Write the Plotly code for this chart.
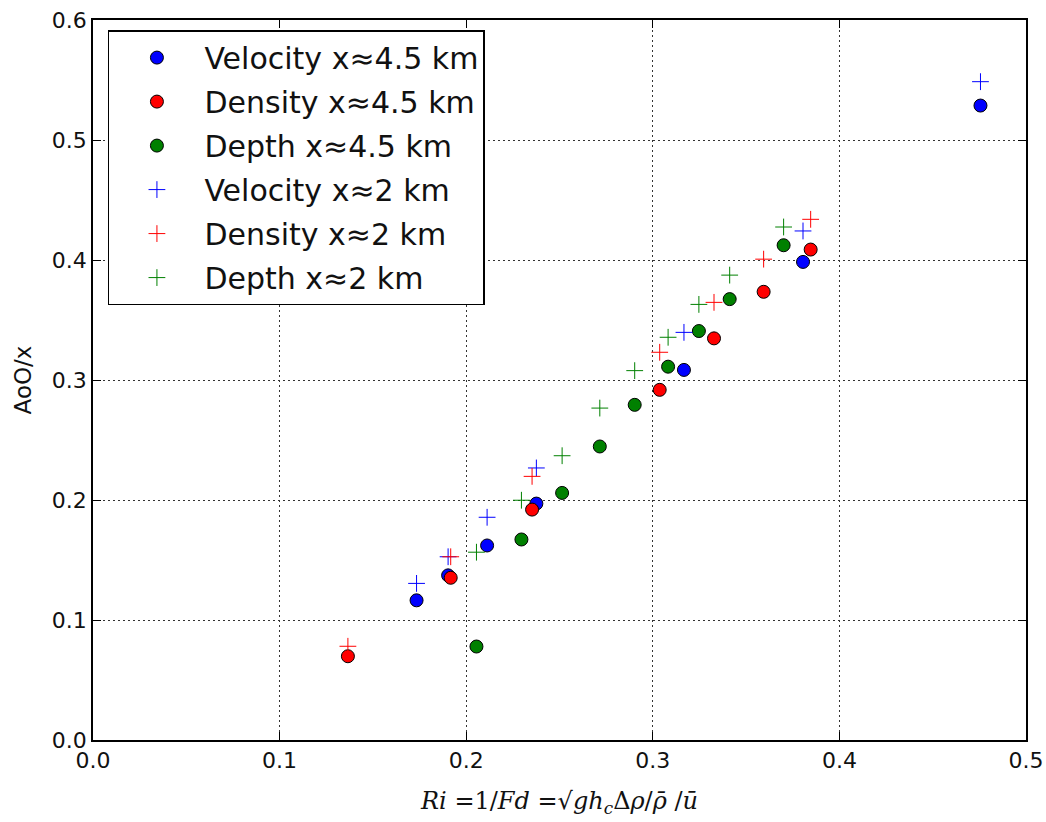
import plotly.graph_objects as go

# Velocity, x ~ 4.5 km
vel45_x = [0.1734, 0.1903, 0.2112, 0.2376, 0.3167, 0.3805, 0.4756]
vel45_y = [0.1164, 0.1372, 0.1621, 0.1970, 0.3084, 0.3984, 0.5287]
# Density, x ~ 4.5 km
den45_x = [0.1366, 0.1917, 0.2353, 0.3037, 0.3328, 0.3594, 0.3846]
den45_y = [0.0698, 0.1352, 0.1920, 0.2918, 0.3347, 0.3735, 0.4087]
# Depth, x ~ 4.5 km
dep45_x = [0.2055, 0.2296, 0.2514, 0.2716, 0.2903, 0.3082, 0.3247, 0.3412, 0.3701]
dep45_y = [0.0779, 0.1671, 0.2059, 0.2446, 0.2793, 0.3111, 0.3408, 0.3674, 0.4123]
# Velocity, x ~ 2 km
vel2_x = [0.1734, 0.1903, 0.2112, 0.2376, 0.3167, 0.3805, 0.4756]
vel2_y = [0.1305, 0.1527, 0.1856, 0.2267, 0.3397, 0.4242, 0.5486]
# Density, x ~ 2 km
den2_x = [0.1366, 0.1917, 0.2353, 0.3037, 0.3328, 0.3594, 0.3846]
den2_y = [0.0781, 0.1527, 0.2197, 0.3231, 0.3647, 0.4007, 0.4339]
# Depth, x ~ 2 km
dep2_x = [0.2055, 0.2296, 0.2514, 0.2716, 0.2903, 0.3082, 0.3247, 0.3412, 0.3701]
dep2_y = [0.1565, 0.1998, 0.2369, 0.2766, 0.3078, 0.3356, 0.3630, 0.3874, 0.4275]

x_ticks = [0.0, 0.1, 0.2, 0.3, 0.4, 0.5]
y_ticks = [0.0, 0.1, 0.2, 0.3, 0.4, 0.5, 0.6]

BLUE, RED, GREEN = "#0000ff", "#ff0000", "#008000"

series = [
    ("Velocity x≈4.5 km", vel45_x, vel45_y, BLUE, "circle"),
    ("Density x≈4.5 km", den45_x, den45_y, RED, "circle"),
    ("Depth x≈4.5 km", dep45_x, dep45_y, GREEN, "circle"),
    ("Velocity x≈2 km", vel2_x, vel2_y, BLUE, "plus"),
    ("Density x≈2 km", den2_x, den2_y, RED, "plus"),
    ("Depth x≈2 km", dep2_x, dep2_y, GREEN, "plus"),
]

fig = go.Figure()
for i, (name, xs, ys, col, kind) in enumerate(series):
    if kind == "circle":
        marker = dict(symbol="circle", size=13, color=col,
                      line=dict(color="black", width=1))
    else:
        marker = dict(symbol="cross-thin-open", size=12, color=col,
                      line=dict(color=col, width=1))
    fig.add_trace(go.Scatter(x=xs, y=ys, mode="markers", name=name,
                             marker=marker, legendgroup=f"g{i}"))

axis_common = dict(
    showline=True, linecolor="black", linewidth=1.5, mirror="allticks",
    ticks="inside", ticklen=8, tickwidth=1, tickcolor="black",
    showgrid=True, gridcolor="#333333", gridwidth=1, griddash="2px,3px",
    zeroline=False, automargin=False,
    tickfont=dict(family="DejaVu Sans", size=22, color="#111"),
)

xtitle = ("<i>Ri</i> =1/<i>Fd</i> =√<i>gh<sub>c</sub></i>"
          "Δ<i>ρ</i>/<i>ρ̄</i> /<i>ū</i>")

fig.update_xaxes(range=[0, 0.5], tickvals=x_ticks,
                 ticktext=[f"{v:.1f}" for v in x_ticks],
                 title=dict(text=xtitle,
                            font=dict(family="DejaVu Serif", size=24, color="#111"),
                            standoff=20),
                 **axis_common)
fig.update_yaxes(range=[0, 0.6], tickvals=y_ticks,
                 ticktext=[f"{v:.1f}" for v in y_ticks],
                 title=dict(text="AoO/x", font=dict(family="DejaVu Sans", size=23, color="#111"),
                            standoff=14),
                 **axis_common)

fig.update_layout(
    width=1046, height=822,
    margin=dict(l=93, r=20, t=20, b=82),
    plot_bgcolor="white", paper_bgcolor="white",
    showlegend=True,
    legend=dict(x=0.016, y=0.986, xanchor="left", yanchor="top",
                bgcolor="white", bordercolor="black", borderwidth=1.5,
                font=dict(family="DejaVu Sans", size=30, color="#111"),
                itemwidth=85, tracegroupgap=2),
)

fig.write_html("out.html")
